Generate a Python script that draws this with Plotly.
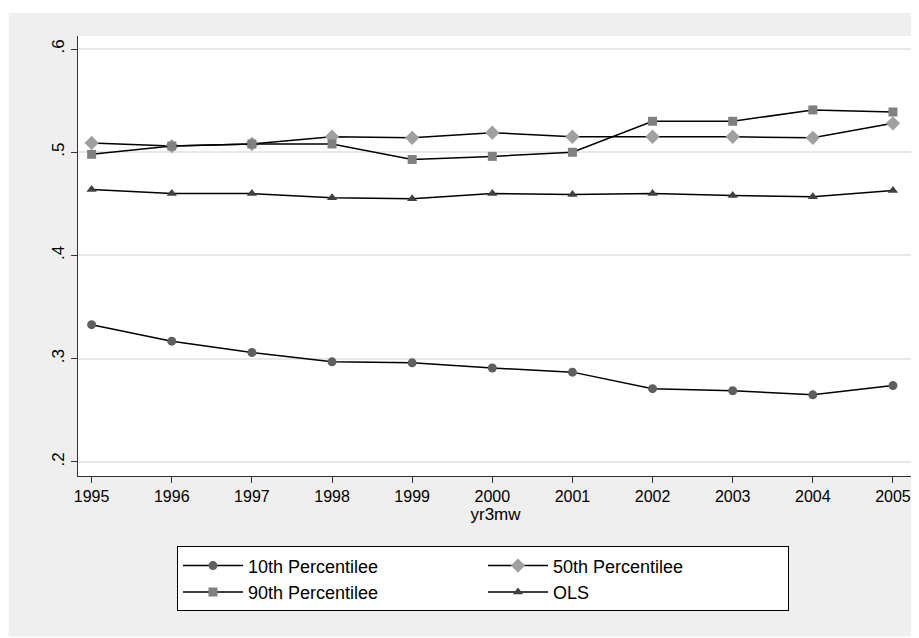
import plotly.graph_objects as go

years = list(range(1995, 2006))
p10 = [0.333, 0.317, 0.306, 0.297, 0.296, 0.291, 0.287, 0.271, 0.269, 0.265, 0.274]
p50 = [0.509, 0.506, 0.508, 0.515, 0.514, 0.519, 0.515, 0.515, 0.515, 0.514, 0.528]
p90 = [0.498, 0.506, 0.508, 0.508, 0.493, 0.496, 0.500, 0.530, 0.530, 0.541, 0.539]
ols = [0.464, 0.460, 0.460, 0.456, 0.455, 0.460, 0.459, 0.460, 0.458, 0.457, 0.463]

series = [
    ("10th Percentilee", p10, "circle", "#5f5f5f"),
    ("50th Percentilee", p50, "diamond", "#a0a0a0"),
    ("90th Percentilee", p90, "square", "#808080"),
    ("OLS", ols, "triangle-up", "#404040"),
]

fig = go.Figure()
for name, vals, sym, col in series:
    fig.add_trace(go.Scatter(
        x=years, y=vals, name=name, mode="lines+markers",
        line=dict(color="black", width=1.5),
        marker=dict(symbol=sym, color=col, size=11 if sym == "diamond" else 9),
    ))

# stata-like gray graph region, white plot region on top
fig.add_shape(type="rect", xref="paper", yref="paper", layer="below",
              x0=-0.083, x1=1.012, y0=-0.3645, y1=1.052,
              fillcolor="#efefef", line_width=0)
fig.add_shape(type="rect", xref="x domain", yref="y domain", layer="below",
              x0=0, x1=1, y0=0, y1=1, fillcolor="white", line_width=0)

fig.update_layout(
    width=919, height=638,
    margin=dict(l=70, r=14, t=28, b=170),
    paper_bgcolor="white", plot_bgcolor="white",
    font=dict(family="Liberation Sans", size=17, color="black"),
    showlegend=True,
    legend=dict(orientation="h", x=0.485, xanchor="center", y=-0.16, yanchor="top",
                bgcolor="white", bordercolor="black", borderwidth=1,
                entrywidth=230, itemwidth=60, font=dict(size=18), traceorder="normal"),
    xaxis=dict(range=[1994.83, 2005.25], tickvals=years, ticks="outside",
               ticklen=6, tickcolor="#333", showgrid=False, showline=True,
               linecolor="#333", linewidth=1, zeroline=False, ticklabeloverflow="allow",
               tickfont=dict(size=16),
               title=dict(text="yr3mw", standoff=0, font=dict(size=17))),
    yaxis=dict(range=[0.1864, 0.6126], tickvals=[0.2, 0.3, 0.4, 0.5, 0.6],
               ticktext=[".2", ".3", ".4", ".5", ".6"], tickangle=-90,
               ticks="outside", ticklen=6, tickcolor="#333",
               showgrid=True, gridcolor="#e8e8e8", gridwidth=1.5,
               showline=True, linecolor="#333", linewidth=1, zeroline=False),
)

fig.write_html("out.html")
